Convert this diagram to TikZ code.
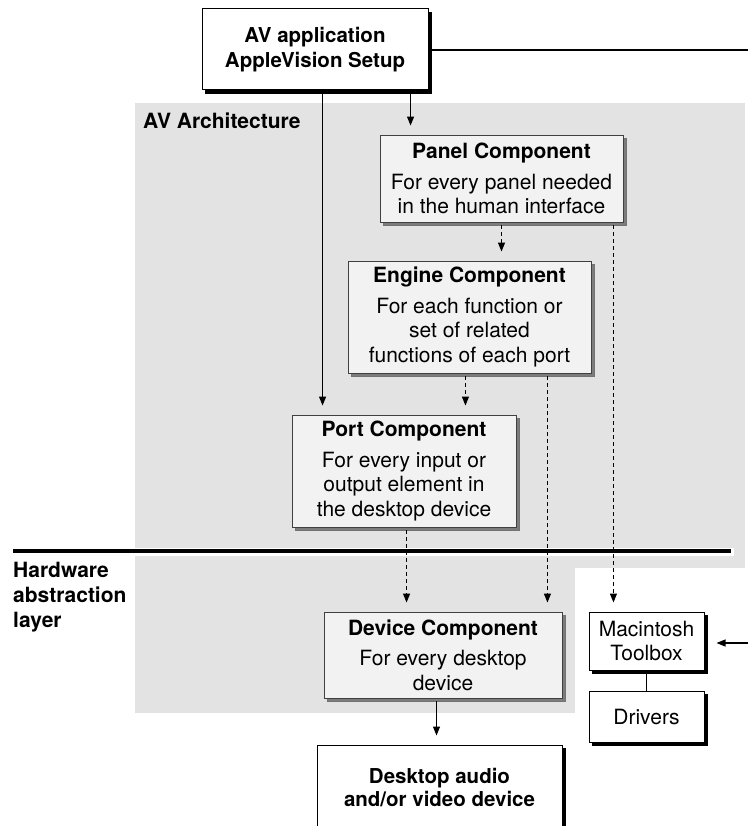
\documentclass[tikz,border=0pt]{standalone}
\usepackage{fontspec}
\setmainfont{TeX Gyre Heros}
\usetikzlibrary{arrows.meta,calc}
\definecolor{archgray}{HTML}{E3E3E3}
\definecolor{compfill}{HTML}{F2F2F2}
\definecolor{compshadow}{HTML}{7C7C7C}

\begin{document}
\begin{tikzpicture}[x=1pt,y=-1pt,
  txt/.style={font=\fontsize{21}{24.5}\selectfont},
  comp/.style={txt, draw=black!75, line width=0.9pt, fill=compfill, align=center,
    inner sep=0pt,
    preaction={fill=compshadow, draw=black!55, line width=0.8pt,
      transform canvas={xshift=3pt,yshift=-3pt}}},
  plainbox/.style={txt, draw=black, line width=1pt, fill=white, align=center,
    inner sep=0pt,
    preaction={fill=black, draw=black, transform canvas={xshift=3.5pt,yshift=-3.5pt}}},
  conn/.style={line width=1.1pt, -{Triangle[length=9pt,width=7pt]}, shorten >=9pt},
  dconn/.style={conn, dash pattern=on 4pt off 3pt},
  link/.style={line width=1.1pt}
]
\useasboundingbox (0,0) rectangle (748,826);
\clip (0,0) rectangle (748,826);

% shaded architecture areas
\fill[archgray] (135,103) rectangle (745,548);
\fill[archgray] (734,548) rectangle (745,556);
\fill[archgray] (135,556) rectangle (575,713);
\fill[archgray] (575,556) rectangle (745,568);

% layer separator
\draw[line width=4pt] (13,551) -- (731,551);

% labels
\node[font=\fontsize{21}{24.5}\selectfont\bfseries, anchor=base west, inner sep=0pt]
  (archlabel) at (143,129) {AV Architecture};
\node[font=\fontsize{21}{25}\selectfont\bfseries, anchor=north west, inner sep=0pt, align=left]
  (hallabel) at (13,562) {Hardware\\abstraction\\layer};

% boxes
\node[plainbox, font=\fontsize{20.5}{25}\selectfont\bfseries, minimum width=226pt, minimum height=81pt]
  (top) at (315,49.5) {AV application\\AppleVision Setup};
\node[comp, minimum width=243pt, minimum height=87pt] (panel) at (501.5,178.5)
  {\textbf{Panel Component}\\[6pt]For every panel needed\\in the human interface};
\node[comp, minimum width=243pt, minimum height=112pt] (engine) at (469.5,317)
  {\textbf{Engine Component}\\[6pt]For each function or\\set of related\\functions of each port};
\node[comp, minimum width=224pt, minimum height=112pt] (port) at (404,471)
  {\textbf{Port Component}\\[6pt]For every input or\\output element in\\the desktop device};
\node[comp, minimum width=238pt, minimum height=86pt] (device) at (443,655)
  {\textbf{Device Component}\\[6pt]For every desktop\\device};
\node[plainbox, font=\fontsize{20.5}{23}\selectfont\bfseries, minimum width=245pt, minimum height=84pt]
  (desktop) at (439.5,787) {Desktop audio\\and/or video device};
\node[plainbox, minimum width=115pt, minimum height=58pt] (mac) at (646.5,641)
  {Macintosh\\Toolbox};
\node[plainbox, minimum width=115pt, minimum height=51pt] (drivers) at (646.5,716.5)
  {Drivers};

% connector end points
\coordinate (toPanel) at ($(panel.north west)+(31,0)$);
\coordinate (toPort) at ($(port.north west)+(31,0)$);
\coordinate (panelToMac) at ($(panel.south east)+(-10,0)$);
\coordinate (engToPort) at ($(port.north east)+(-51,0)$);
\coordinate (engToDev) at ($(engine.south east)+(-44,0)$);
\coordinate (portToDev) at ($(device.north west)+(83,0)$);
\coordinate (devToDesk) at ($(desktop.north west)+(120,0)$);
\coordinate (offRight) at (748,50);
\coordinate (fromRight) at (748,643);

% connectors
\draw[link, shorten <=3.5pt] (top.east |- offRight) -- (offRight);
\draw[conn, shorten <=3.5pt] (top.south -| toPanel) -- (toPanel);
\draw[conn, shorten <=3.5pt] (top.south -| toPort) -- (toPort);
\draw[dconn, shorten <=3pt] (panel.south) -- (panel.south |- engine.north);
\draw[dconn, shorten <=3pt] (panelToMac) -- (panelToMac |- mac.north);
\draw[dconn, shorten <=3pt] (engine.south -| engToPort) -- (engToPort);
\draw[dconn, shorten <=3pt] (engToDev) -- (engToDev |- device.north);
\draw[dconn, shorten <=3pt] (port.south -| portToDev) -- (portToDev);
\draw[conn, shorten <=3pt] (device.south -| devToDesk) -- (devToDesk);
\draw[link, shorten <=3.5pt] (mac.south) -- (drivers.north);
\draw[conn, shorten >=12pt] (fromRight) -- (mac.east |- fromRight);
\end{tikzpicture}
\end{document}
